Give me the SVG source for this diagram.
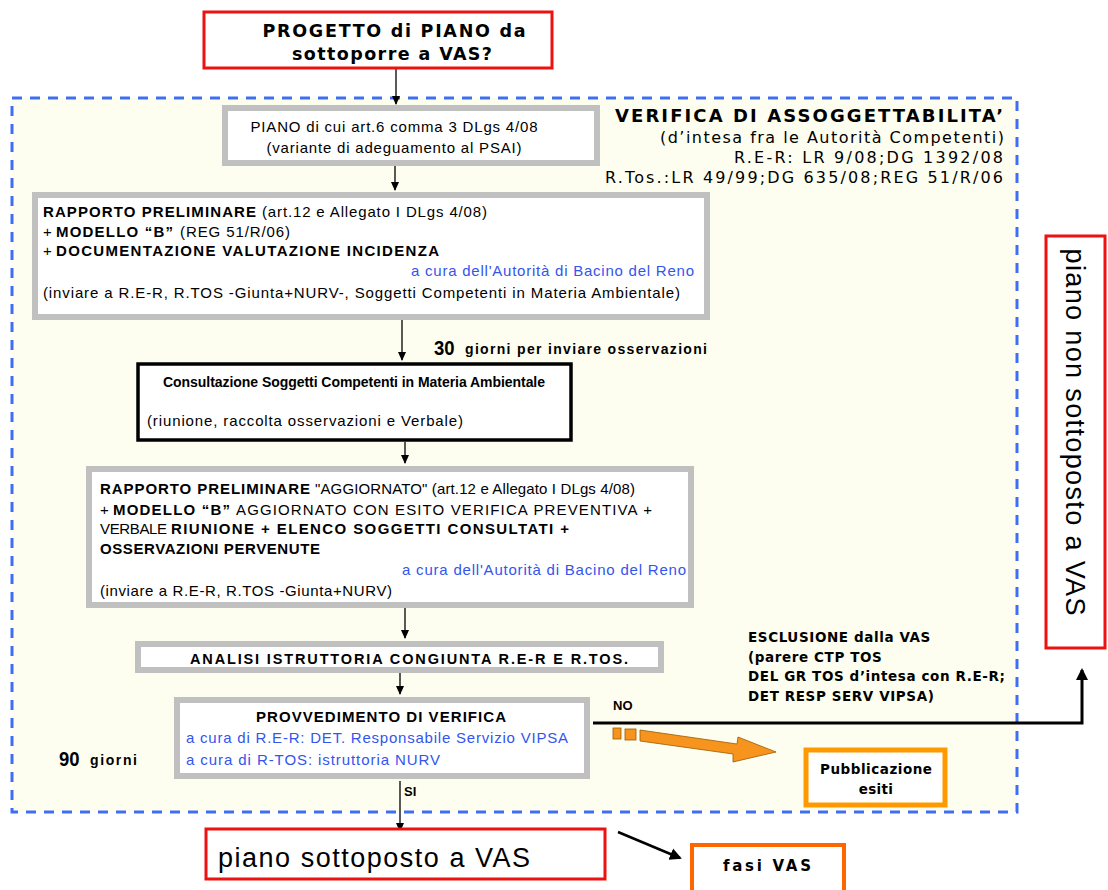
<svg xmlns="http://www.w3.org/2000/svg" width="1108" height="890" viewBox="0 0 1108 890">
<style>
.sans{font-family:"Liberation Sans",Arial,sans-serif;fill:#000}
.ver{font-family:"DejaVu Sans",Verdana,sans-serif;fill:#000}
.b{font-weight:bold}
.blue{fill:#3355ee}
.grey{fill:#fff;stroke:#c0c0c0;stroke-width:6}
.red{fill:#fff;stroke:#ee1111;stroke-width:3}
.ln{stroke:#000;stroke-width:1.3;fill:none}
.t{font-size:15px}
</style>
<defs>
<marker id="ah" markerWidth="10" markerHeight="10" refX="8" refY="5" orient="auto" markerUnits="userSpaceOnUse">
<path d="M0,1 L9,5 L0,9 z" fill="#000"/>
</marker>
<marker id="ah2" markerWidth="14" markerHeight="14" refX="10" refY="7" orient="auto" markerUnits="userSpaceOnUse">
<path d="M0,1 L12,7 L0,13 z" fill="#000"/>
</marker>
</defs>
<rect width="1108" height="890" fill="#fff"/>
<g id="area">
<rect x="12" y="98" width="1005" height="714" fill="#fefef0" stroke="#3f6ef5" stroke-width="3" stroke-dasharray="10,8"/>
<text class="ver b" x="1003" y="122" font-size="18" text-anchor="end" textLength="388" lengthAdjust="spacing">VERIFICA DI ASSOGGETTABILITA’</text>
<text class="ver" x="1004" y="143" font-size="16" text-anchor="end" textLength="344" lengthAdjust="spacing">(d’intesa fra le Autorità Competenti)</text>
<text class="ver" x="1003" y="163" font-size="16" text-anchor="end" textLength="269" lengthAdjust="spacing">R.E-R: LR 9/08;DG 1392/08</text>
<text class="ver" x="1003" y="183" font-size="16" text-anchor="end" textLength="398" lengthAdjust="spacing">R.Tos.:LR 49/99;DG 635/08;REG 51/R/06</text>
</g>
<g id="connectors">
<line class="ln" x1="396" y1="68" x2="396" y2="104" marker-end="url(#ah)"/>
<line class="ln" x1="395" y1="166" x2="395" y2="190" marker-end="url(#ah)"/>
<line class="ln" x1="402" y1="320" x2="402" y2="360" marker-end="url(#ah)"/>
<line class="ln" x1="405" y1="442" x2="405" y2="463" marker-end="url(#ah)"/>
<line class="ln" x1="405" y1="608" x2="405" y2="638" marker-end="url(#ah)"/>
<line class="ln" x1="400" y1="673" x2="400" y2="694" marker-end="url(#ah)"/>
<line class="ln" x1="400" y1="781" x2="400" y2="831" marker-end="url(#ah)"/>
<polyline points="593,723 1082,723 1082,670" fill="none" stroke="#000" stroke-width="3" marker-end="url(#ah2)"/>
<line x1="618" y1="832" x2="680" y2="858" stroke="#000" stroke-width="2.5" marker-end="url(#ah2)"/>
<g fill="#f7941d" stroke="#9a5a00" stroke-width="0.8">
<rect x="613" y="728" width="8" height="11"/>
<rect x="625" y="729" width="11" height="11"/>
<path d="M640,730 L737,744 L738,737 L776,752 L733,762 L733,754 L640,741 z"/>
</g>
<text class="sans b" x="613" y="710" font-size="13">NO</text>
<text class="sans b" x="404" y="796" font-size="13">SI</text>
<text class="sans b" x="434" y="355" font-size="21" transform="translate(434 0) scale(0.88 1) translate(-434 0)">30</text>
<text class="sans b" x="465" y="354" font-size="14" textLength="242" lengthAdjust="spacing">giorni per inviare osservazioni</text>
<text class="sans b" x="59" y="766" font-size="21" transform="translate(59 0) scale(0.88 1) translate(-59 0)">90</text>
<text class="sans b" x="90" y="765" font-size="14" textLength="47" lengthAdjust="spacing">giorni</text>
<g id="esclusione" class="ver b" font-size="13.5" letter-spacing="0.6">
<text x="748" y="642">ESCLUSIONE dalla VAS</text>
<text x="748" y="662">(parere CTP TOS</text>
<text x="748" y="681">DEL GR TOS d’intesa con R.E-R;</text>
<text x="748" y="701">DET RESP SERV VIPSA)</text>
</g>
</g>
<g id="n1">
<rect class="red" x="204" y="12" width="348" height="56"/>
<text class="ver b" x="394" y="37" font-size="17.5" text-anchor="middle" textLength="263" lengthAdjust="spacing">PROGETTO di PIANO da</text>
<text class="ver b" x="392" y="60" font-size="17.5" text-anchor="middle" textLength="200" lengthAdjust="spacing">sottoporre a VAS?</text>
</g>
<g id="n2">
<rect class="grey" x="225" y="108" width="372" height="55"/>
<text class="sans t" x="394" y="132" text-anchor="middle" textLength="287" lengthAdjust="spacing">PIANO di cui art.6 comma 3 DLgs 4/08</text>
<text class="sans t" x="394" y="153" text-anchor="middle" textLength="255" lengthAdjust="spacing">(variante di adeguamento al PSAI)</text>
</g>
<g id="n3">
<rect class="grey" x="35" y="195" width="672" height="122"/>
<text class="sans t b" x="43" y="217" textLength="213" lengthAdjust="spacing">RAPPORTO PRELIMINARE</text>
<text class="sans t" x="262" y="217" textLength="225" lengthAdjust="spacing">(art.12 e Allegato I DLgs 4/08)</text>
<text class="sans t" x="43" y="237">+</text>
<text class="sans t b" x="56" y="237" textLength="117" lengthAdjust="spacing">MODELLO “B”</text>
<text class="sans t" x="180" y="237" textLength="110" lengthAdjust="spacing">(REG 51/R/06)</text>
<text class="sans t" x="43" y="256">+</text>
<text class="sans t b" x="56" y="256" textLength="383" lengthAdjust="spacing">DOCUMENTAZIONE VALUTAZIONE INCIDENZA</text>
<text class="sans t blue" x="694" y="276" text-anchor="end" textLength="283" lengthAdjust="spacing">a cura dell'Autorità di Bacino del Reno</text>
<text class="sans t" x="43" y="298" textLength="637" lengthAdjust="spacing">(inviare a R.E-R, R.TOS -Giunta+NURV-, Soggetti Competenti in Materia Ambientale)</text>
</g>
<g id="n4">
<rect x="138" y="364" width="433" height="76" fill="#fff" stroke="#000" stroke-width="3.5"/>
<text class="sans b" x="354" y="387" font-size="14" text-anchor="middle" textLength="382" lengthAdjust="spacing">Consultazione Soggetti  Competenti in Materia Ambientale</text>
<text class="sans t" x="147" y="426" textLength="316" lengthAdjust="spacing">(riunione, raccolta osservazioni  e Verbale)</text>
</g>
<g id="n5">
<rect class="grey" x="89" y="469" width="602" height="136"/>
<text class="sans t b" x="100" y="494" textLength="210" lengthAdjust="spacing">RAPPORTO PRELIMINARE</text>
<text class="sans t" x="315" y="494" textLength="320" lengthAdjust="spacing">"AGGIORNATO" (art.12 e Allegato I DLgs 4/08)</text>
<text class="sans t" x="100" y="515">+</text>
<text class="sans t b" x="113" y="515" textLength="117" lengthAdjust="spacing">MODELLO “B”</text>
<text class="sans t" x="236" y="515" textLength="416" lengthAdjust="spacing">AGGIORNATO CON ESITO VERIFICA PREVENTIVA +</text>
<text class="sans t" x="100" y="534" textLength="67" lengthAdjust="spacing">VERBALE</text>
<text class="sans t b" x="171" y="534" textLength="398" lengthAdjust="spacing">RIUNIONE + ELENCO SOGGETTI CONSULTATI +</text>
<text class="sans t b" x="100" y="554" textLength="220" lengthAdjust="spacing">OSSERVAZIONI PERVENUTE</text>
<text class="sans t blue" x="686" y="575" text-anchor="end" textLength="284" lengthAdjust="spacing">a cura dell'Autorità di Bacino del Reno</text>
<text class="sans t" x="100" y="596" textLength="292" lengthAdjust="spacing">(inviare a R.E-R, R.TOS -Giunta+NURV)</text>
</g>
<g id="n6">
<rect class="grey" x="138" y="644" width="523" height="26"/>
<text class="sans b" x="409" y="664" font-size="14.5" text-anchor="middle" textLength="438" lengthAdjust="spacing">ANALISI ISTRUTTORIA CONGIUNTA R.E-R E R.TOS.</text>
</g>
<g id="n7">
<rect class="grey" x="177" y="700" width="410" height="76"/>
<text class="sans t b" x="381" y="722" text-anchor="middle" textLength="250" lengthAdjust="spacing">PROVVEDIMENTO DI VERIFICA</text>
<text class="sans t blue" x="186" y="743" textLength="382" lengthAdjust="spacing">a cura di R.E-R: DET. Responsabile Servizio VIPSA</text>
<text class="sans t blue" x="186" y="765" textLength="254" lengthAdjust="spacing">a cura di R-TOS: istruttoria NURV</text>
</g>
<g id="n8">
<rect x="806" y="750" width="139" height="55" fill="#fff" stroke="#ff9900" stroke-width="5"/>
<text class="ver b" x="876" y="774" font-size="13.5" text-anchor="middle" textLength="112" lengthAdjust="spacing">Pubblicazione</text>
<text class="ver b" x="876" y="794" font-size="13.5" text-anchor="middle" letter-spacing="0.3">esiti</text>
</g>
<g id="n9">
<rect class="red" x="1046" y="236" width="59" height="412"/>
<text class="sans" x="0" y="0" font-size="27" transform="translate(1066 432) rotate(90)" text-anchor="middle" textLength="367" lengthAdjust="spacing">piano non sottoposto a VAS</text>
</g>
<g id="n10">
<rect class="red" x="206" y="829" width="399" height="50"/>
<text class="sans" x="218" y="867" font-size="27" textLength="312" lengthAdjust="spacing">piano sottoposto a VAS</text>
</g>
<g id="n11">
<rect x="692" y="845" width="152" height="50" fill="#fff" stroke="#ff6600" stroke-width="4"/>
<text class="ver b" x="767" y="871" font-size="15" text-anchor="middle" textLength="88" lengthAdjust="spacing">fasi VAS</text>
</g>
</svg>
